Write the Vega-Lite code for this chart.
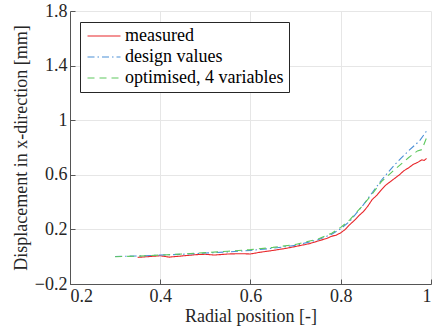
{
  "$schema": "https://vega.github.io/schema/vega-lite/v6.json",
  "autosize": "none",
  "width": 361,
  "height": 273,
  "padding": {"left": 70, "top": 11, "right": 3, "bottom": 52},
  "background": "white",
  "config": {
    "font": "Liberation Serif, Times New Roman, serif",
    "view": {"stroke": null},
    "axis": {
      "labelFont": "Liberation Serif, Times New Roman, serif",
      "titleFont": "Liberation Serif, Times New Roman, serif",
      "labelFontSize": 18,
      "titleFontSize": 18,
      "titleFontWeight": "normal",
      "labelColor": "#262626",
      "titleColor": "#262626",
      "domainColor": "#555555",
      "tickColor": "#555555",
      "gridColor": "#E6E6E6",
      "grid": true
    },
    "legend": {
      "labelFont": "Liberation Serif, Times New Roman, serif"
    }
  },
  "data": {
    "values": [
      {"series": "measured", "x": 0.35, "y": -0.005},
      {"series": "measured", "x": 0.38, "y": 0.002},
      {"series": "measured", "x": 0.40, "y": 0.007},
      {"series": "measured", "x": 0.42, "y": -0.003},
      {"series": "measured", "x": 0.45, "y": 0.006},
      {"series": "measured", "x": 0.48, "y": 0.015},
      {"series": "measured", "x": 0.50, "y": 0.018},
      {"series": "measured", "x": 0.52, "y": 0.012},
      {"series": "measured", "x": 0.55, "y": 0.02},
      {"series": "measured", "x": 0.58, "y": 0.022},
      {"series": "measured", "x": 0.60, "y": 0.02},
      {"series": "measured", "x": 0.62, "y": 0.032},
      {"series": "measured", "x": 0.65, "y": 0.046},
      {"series": "measured", "x": 0.68, "y": 0.062},
      {"series": "measured", "x": 0.70, "y": 0.075},
      {"series": "measured", "x": 0.73, "y": 0.095},
      {"series": "measured", "x": 0.75, "y": 0.115},
      {"series": "measured", "x": 0.77, "y": 0.135},
      {"series": "measured", "x": 0.78, "y": 0.15},
      {"series": "measured", "x": 0.79, "y": 0.158},
      {"series": "measured", "x": 0.80, "y": 0.175},
      {"series": "measured", "x": 0.81, "y": 0.2},
      {"series": "measured", "x": 0.82, "y": 0.235},
      {"series": "measured", "x": 0.83, "y": 0.265},
      {"series": "measured", "x": 0.84, "y": 0.3},
      {"series": "measured", "x": 0.85, "y": 0.33},
      {"series": "measured", "x": 0.86, "y": 0.37},
      {"series": "measured", "x": 0.87, "y": 0.42},
      {"series": "measured", "x": 0.88, "y": 0.45},
      {"series": "measured", "x": 0.89, "y": 0.49},
      {"series": "measured", "x": 0.90, "y": 0.525},
      {"series": "measured", "x": 0.91, "y": 0.55},
      {"series": "measured", "x": 0.92, "y": 0.575},
      {"series": "measured", "x": 0.93, "y": 0.6},
      {"series": "measured", "x": 0.94, "y": 0.63},
      {"series": "measured", "x": 0.95, "y": 0.65},
      {"series": "measured", "x": 0.96, "y": 0.675},
      {"series": "measured", "x": 0.97, "y": 0.69},
      {"series": "measured", "x": 0.98, "y": 0.71},
      {"series": "measured", "x": 0.985, "y": 0.705},
      {"series": "measured", "x": 0.99, "y": 0.72},
      {"series": "design values", "x": 0.30, "y": 0.002},
      {"series": "design values", "x": 0.35, "y": 0.005},
      {"series": "design values", "x": 0.40, "y": 0.012},
      {"series": "design values", "x": 0.45, "y": 0.018},
      {"series": "design values", "x": 0.50, "y": 0.027},
      {"series": "design values", "x": 0.55, "y": 0.035},
      {"series": "design values", "x": 0.60, "y": 0.046},
      {"series": "design values", "x": 0.65, "y": 0.062},
      {"series": "design values", "x": 0.70, "y": 0.083},
      {"series": "design values", "x": 0.75, "y": 0.124},
      {"series": "design values", "x": 0.78, "y": 0.165},
      {"series": "design values", "x": 0.80, "y": 0.205},
      {"series": "design values", "x": 0.82, "y": 0.26},
      {"series": "design values", "x": 0.85, "y": 0.38},
      {"series": "design values", "x": 0.87, "y": 0.47},
      {"series": "design values", "x": 0.89, "y": 0.56},
      {"series": "design values", "x": 0.92, "y": 0.676},
      {"series": "design values", "x": 0.95, "y": 0.775},
      {"series": "design values", "x": 0.975, "y": 0.85},
      {"series": "design values", "x": 0.99, "y": 0.92},
      {"series": "optimised, 4 variables", "x": 0.30, "y": 0.0},
      {"series": "optimised, 4 variables", "x": 0.35, "y": 0.004},
      {"series": "optimised, 4 variables", "x": 0.40, "y": 0.012},
      {"series": "optimised, 4 variables", "x": 0.45, "y": 0.02},
      {"series": "optimised, 4 variables", "x": 0.50, "y": 0.03},
      {"series": "optimised, 4 variables", "x": 0.55, "y": 0.04},
      {"series": "optimised, 4 variables", "x": 0.60, "y": 0.052},
      {"series": "optimised, 4 variables", "x": 0.65, "y": 0.068},
      {"series": "optimised, 4 variables", "x": 0.70, "y": 0.09},
      {"series": "optimised, 4 variables", "x": 0.75, "y": 0.13},
      {"series": "optimised, 4 variables", "x": 0.78, "y": 0.172},
      {"series": "optimised, 4 variables", "x": 0.80, "y": 0.215},
      {"series": "optimised, 4 variables", "x": 0.82, "y": 0.27},
      {"series": "optimised, 4 variables", "x": 0.85, "y": 0.38},
      {"series": "optimised, 4 variables", "x": 0.87, "y": 0.46},
      {"series": "optimised, 4 variables", "x": 0.89, "y": 0.55},
      {"series": "optimised, 4 variables", "x": 0.92, "y": 0.64},
      {"series": "optimised, 4 variables", "x": 0.95, "y": 0.725},
      {"series": "optimised, 4 variables", "x": 0.97, "y": 0.775},
      {"series": "optimised, 4 variables", "x": 0.98, "y": 0.785},
      {"series": "optimised, 4 variables", "x": 0.99, "y": 0.87}
    ]
  },
  "mark": {"type": "line", "strokeWidth": 1.1, "clip": true},
  "encoding": {
    "x": {
      "field": "x", "type": "quantitative",
      "scale": {"domain": [0.2, 1], "nice": false},
      "axis": {
        "title": "Radial position [-]",
        "values": [0.2, 0.4, 0.6, 0.8, 1],
        "format": "~g",
        "tickSize": -5,
        "labelPadding": 8,
        "titlePadding": 2
      }
    },
    "y": {
      "field": "y", "type": "quantitative",
      "scale": {"domain": [-0.2, 1.8], "nice": false, "zero": false},
      "axis": {
        "title": "Displacement in x-direction [mm]",
        "values": [-0.2, 0.2, 0.6, 1, 1.4, 1.8],
        "format": "~g",
        "tickSize": -5,
        "labelPadding": 8,
        "titlePadding": 4
      }
    },
    "color": {
      "field": "series", "type": "nominal",
      "scale": {
        "domain": ["measured", "design values", "optimised, 4 variables"],
        "range": ["#E8262A", "#4A8FD6", "#5EC85E"]
      },
      "legend": {
        "title": null,
        "orient": "none",
        "legendX": 10,
        "legendY": 11,
        "symbolType": "M-2,0H2",
        "symbolSize": 272,
        "symbolOffset": 10,
        "symbolStrokeWidth": 1.1,
        "symbolFillColor": "transparent",
        "labelFont": "Liberation Serif, Times New Roman, serif",
        "labelFontSize": 18,
        "labelColor": "#000000",
        "labelOffset": 12,
        "rowPadding": 3,
        "strokeColor": "#262626",
        "fillColor": "white",
        "padding": 5
      }
    },
    "strokeDash": {
      "field": "series", "type": "nominal",
      "scale": {
        "domain": ["measured", "design values", "optimised, 4 variables"],
        "range": [[1, 0], [7, 3, 1.5, 3], [7, 5]]
      },
      "legend": null
    }
  }
}
